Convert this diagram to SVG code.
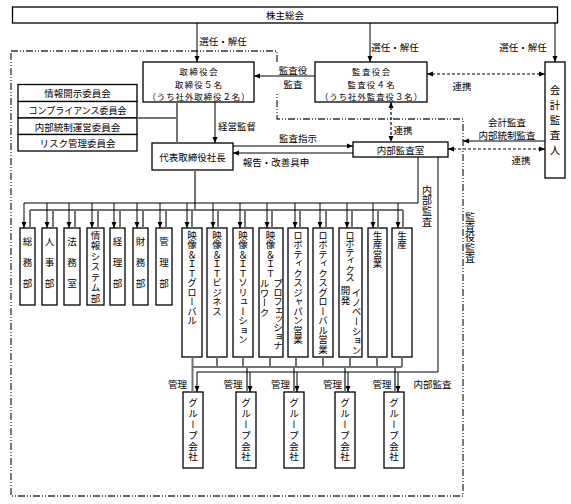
<svg xmlns="http://www.w3.org/2000/svg" width="571" height="504" viewBox="0 0 571 504">
<defs>
<style>
text{font-family:"Noto Sans CJK JP","Noto Sans CJK SC",sans-serif;fill:#000;}
.t{font-size:9.5px;text-anchor:middle;dominant-baseline:central;}
.b{font-size:8.4px;}
.v{font-size:9.5px;writing-mode:vertical-rl;text-anchor:start;dominant-baseline:central;}
.box{fill:#fff;stroke:#000;stroke-width:1.3;}
.ar{fill:none;stroke:#000;stroke-width:1;marker-end:url(#ah);}
.ln{fill:none;stroke:#000;stroke-width:1;}
.gr{fill:none;stroke:#737373;stroke-width:2;}
.dl{fill:none;stroke:#000;stroke-width:1.2;stroke-dasharray:3 2;marker-start:url(#ah);marker-end:url(#ah);}
.bd{fill:none;stroke:#333;stroke-width:1.3;stroke-dasharray:7 2 1 2 1 2;}
</style>
<marker id="ah" viewBox="0 0 6 6" refX="6" refY="3" markerWidth="6" markerHeight="6" markerUnits="userSpaceOnUse" orient="auto-start-reverse"><path d="M0,0.5 L6,3 L0,5.5 Z" fill="#000"/></marker>
</defs>
<rect width="571" height="504" fill="#fff"/>

<!-- boundary -->
<path class="bd" d="M11,51 H277 V119 H463 V496 H11 Z"/>
<rect x="273" y="63" width="8" height="29" fill="#fff"/>

<!-- nodes -->
<g id="kabunushi"><rect class="box" x="12.5" y="7" width="545" height="16"/><text class="t" x="285" y="15">株主総会</text></g>
<g id="torishimariyakukai"><rect class="box" x="143" y="62" width="111" height="40"/>
<text class="t b" x="198.5" y="71.2" textLength="38" lengthAdjust="spacing">取締役会</text><text class="t b" x="198.5" y="83.5" textLength="47" lengthAdjust="spacing">取締役５名</text><text class="t b" x="198.5" y="95.8" textLength="102" lengthAdjust="spacing">（うち社外取締役２名）</text></g>
<g id="kansayakukai"><rect class="box" x="315" y="62" width="112" height="40"/>
<text class="t b" x="371" y="71.2" textLength="38" lengthAdjust="spacing">監査役会</text><text class="t b" x="371" y="83.5" textLength="47" lengthAdjust="spacing">監査役４名</text><text class="t b" x="371" y="95.8" textLength="102" lengthAdjust="spacing">（うち社外監査役３名）</text></g>
<g id="kaikei"><rect class="box" x="545" y="62" width="20" height="116"/><text class="v" x="555" y="84.5" style="font-size:10.5px;letter-spacing:4.5px">会計監査人</text></g>
<g id="naibukansashitsu"><rect class="box" x="353" y="142" width="95" height="15"/><text class="t" x="400.5" y="149.5">内部監査室</text></g>
<g id="daihyo"><rect class="box" x="152" y="143" width="81" height="27"/><text class="t" x="192.5" y="156.5">代表取締役社長</text></g>
<g id="iinkai1"><rect class="box" x="18" y="84.5" width="119" height="17"/><text class="t" x="77.5" y="93">情報開示委員会</text></g>
<g id="iinkai2"><rect class="box" x="18" y="101.5" width="119" height="16.5"/><text class="t" x="77.5" y="110" textLength="98" lengthAdjust="spacingAndGlyphs">コンプライアンス委員会</text></g>
<g id="iinkai3"><rect class="box" x="18" y="118" width="119" height="16.5"/><text class="t" x="77.5" y="126.5">内部統制運営委員会</text></g>
<g id="iinkai4"><rect class="box" x="18" y="134.5" width="119" height="16.5"/><text class="t" x="77.5" y="143">リスク管理委員会</text></g>

<g id="somubu"><rect class="box" x="20" y="228" width="15" height="77"/><text class="v" x="27.5" y="236.3" style="letter-spacing:11.75px">総務部</text></g>
<g id="jinjibu"><rect class="box" x="42" y="228" width="15" height="77"/><text class="v" x="49.5" y="236.3" style="letter-spacing:11.75px">人事部</text></g>
<g id="homushitsu"><rect class="box" x="64" y="228" width="16" height="77"/><text class="v" x="72" y="236.3" style="letter-spacing:11.75px">法務室</text></g>
<g id="johosystem"><rect class="box" x="87" y="228" width="17" height="77"/><text class="v" x="95.5" y="230.5" style="letter-spacing:1px">情報システム部</text></g>
<g id="keiribu"><rect class="box" x="110" y="228" width="15" height="77"/><text class="v" x="117.5" y="236.3" style="letter-spacing:11.75px">経理部</text></g>
<g id="zaimubu"><rect class="box" x="133" y="228" width="15" height="77"/><text class="v" x="140.5" y="236.3" style="letter-spacing:11.75px">財務部</text></g>
<g id="kanribu"><rect class="box" x="156" y="228" width="16" height="77"/><text class="v" x="164" y="236.3" style="letter-spacing:11.75px">管理部</text></g>

<g id="it-global"><rect class="box" x="182" y="228" width="20" height="129"/><text class="v" x="192" y="230.5">映像＆ＩＴグローバル</text></g>
<g id="it-business"><rect class="box" x="207" y="228" width="20" height="129"/><text class="v" x="217" y="230.5">映像＆ＩＴビジネス</text></g>
<g id="it-solution"><rect class="box" x="233" y="228" width="20" height="129"/><text class="v" x="243" y="230.5">映像＆ＩＴソリューション</text></g>
<g id="it-pro"><rect class="box" x="259" y="228" width="24" height="129"/><text class="v" x="270.5" y="230.5">映像＆ＩＴ</text><text class="v" x="278" y="278.5" style="letter-spacing:-0.6px">プロフェッショナ</text><text class="v" x="264.5" y="278.5" style="letter-spacing:0.2px">ルワーク</text></g>
<g id="robo-japan"><rect class="box" x="288" y="228" width="20" height="129"/><text class="v" x="298" y="230.5">ロボティクスジャパン営業</text></g>
<g id="robo-global"><rect class="box" x="313" y="228" width="20" height="129"/><text class="v" x="323" y="230.5">ロボティクスグローバル営業</text></g>
<g id="robo-inno"><rect class="box" x="339" y="228" width="23" height="129"/><text class="v" x="350" y="230.5" style="letter-spacing:-1px">ロボティクス</text><text class="v" x="356.5" y="287.5" style="letter-spacing:0.2px">イノベーション</text><text class="v" x="345.5" y="286">開発</text></g>
<g id="seisan-eigyo"><rect class="box" x="368" y="228" width="19" height="129"/><text class="v" x="377.5" y="230.5">生産営業</text></g>
<g id="seisan"><rect class="box" x="392" y="228" width="20" height="129"/><text class="v" x="402" y="230.5">生産</text></g>

<g id="group1"><rect class="box" x="183" y="392" width="20" height="76"/><text class="v" x="193" y="398" style="letter-spacing:1.3px">グループ会社</text></g>
<g id="group2"><rect class="box" x="236" y="392" width="20" height="76"/><text class="v" x="246" y="398" style="letter-spacing:1.3px">グループ会社</text></g>
<g id="group3"><rect class="box" x="284" y="392" width="20" height="76"/><text class="v" x="294" y="398" style="letter-spacing:1.3px">グループ会社</text></g>
<g id="group4"><rect class="box" x="335" y="392" width="20" height="76"/><text class="v" x="345" y="398" style="letter-spacing:1.3px">グループ会社</text></g>
<g id="group5"><rect class="box" x="384" y="392" width="20" height="76"/><text class="v" x="394" y="398" style="letter-spacing:1.3px">グループ会社</text></g>

<!-- connectors -->
<g id="connectors">
<path class="ar" d="M197,23 V62"/>
<path class="ar" d="M370,23 V62"/>
<path class="ar" d="M555,23 V62"/>
<path class="ar" d="M315,76 H254"/>
<path class="dl" d="M427,74 H545"/>
<path class="dl" d="M391,102 V142"/>
<path class="ar" d="M545,141 H463"/>
<path class="dl" d="M448,149 H545"/>
<path class="ar" d="M215,102 V143"/>
<path class="gr" d="M177,102 V143 M137,118 H177"/>
<path class="ar" d="M233,146 H353"/>
<path class="ar" d="M353,153 H233"/>
<path class="gr" d="M195,170 V210 M30,210 H403 M30,210 V228 M53,210 V228 M75,210 V228 M98,210 V228 M120,210 V228 M143,210 V228 M166,210 V228 M192,210 V228 M218,210 V228 M245,210 V228 M272,210 V228 M300,210 V228 M326,210 V228 M352,210 V228 M378,210 V228 M403,210 V228"/>
<path class="ln" d="M418,157 V203 H24"/>
<path class="ar" d="M24,203 V228"/><path class="ar" d="M47,203 V228"/><path class="ar" d="M69,203 V228"/><path class="ar" d="M92,203 V228"/><path class="ar" d="M114,203 V228"/><path class="ar" d="M137,203 V228"/><path class="ar" d="M160,203 V228"/><path class="ar" d="M187,203 V228"/><path class="ar" d="M213,203 V228"/><path class="ar" d="M240,203 V228"/><path class="ar" d="M267,203 V228"/><path class="ar" d="M295,203 V228"/><path class="ar" d="M320,203 V228"/><path class="ar" d="M347,203 V228"/><path class="ar" d="M373,203 V228"/><path class="ar" d="M398,203 V228"/>
<path class="gr" d="M192.5,357 V392 M217,357 V367 M243,357 V367 M270,357 V367 M296,357 V367 M323,357 V367 M350,357 V367 M377,357 V367 M402,357 V367 M192.5,367 H402 M247,367 V392 M294,367 V392 M345,367 V392 M395,367 V392"/>
<path class="ln" d="M438,157 V372 H197"/>
<path class="ar" d="M197,372 V392"/><path class="ar" d="M250,372 V392"/><path class="ar" d="M297,372 V392"/><path class="ar" d="M348,372 V392"/><path class="ar" d="M398,372 V392"/>
</g>

<!-- labels -->
<g id="labels">
<text class="t" x="223" y="41">選任・解任</text>
<text class="t" x="395" y="47">選任・解任</text>
<text class="t" x="523" y="47">選任・解任</text>
<text class="t" x="293" y="70">監査役</text>
<text class="t" x="293" y="84">監査</text>
<text class="t" x="462" y="86">連携</text>
<text class="t" x="403" y="130">連携</text>
<text class="t" x="507" y="122">会計監査</text>
<text class="t" x="507" y="135">内部統制監査</text>
<text class="t" x="521" y="160">連携</text>
<text class="t" x="237" y="126">経営監督</text>
<text class="t" x="298" y="138">監査指示</text>
<text class="t" x="276" y="162">報告・改善具申</text>
<text class="v" x="427" y="185" style="font-size:10px;letter-spacing:0.7px">内部監査</text>
<text class="v" x="470" y="212" style="font-size:10px;letter-spacing:0.3px">監査役監査</text>
<text class="t" x="177.5" y="384">管理</text>
<text class="t" x="233" y="384">管理</text>
<text class="t" x="280.5" y="384">管理</text>
<text class="t" x="332.5" y="384">管理</text>
<text class="t" x="382" y="384">管理</text>
<text class="t" x="432.5" y="384">内部監査</text>
</g>
</svg>
